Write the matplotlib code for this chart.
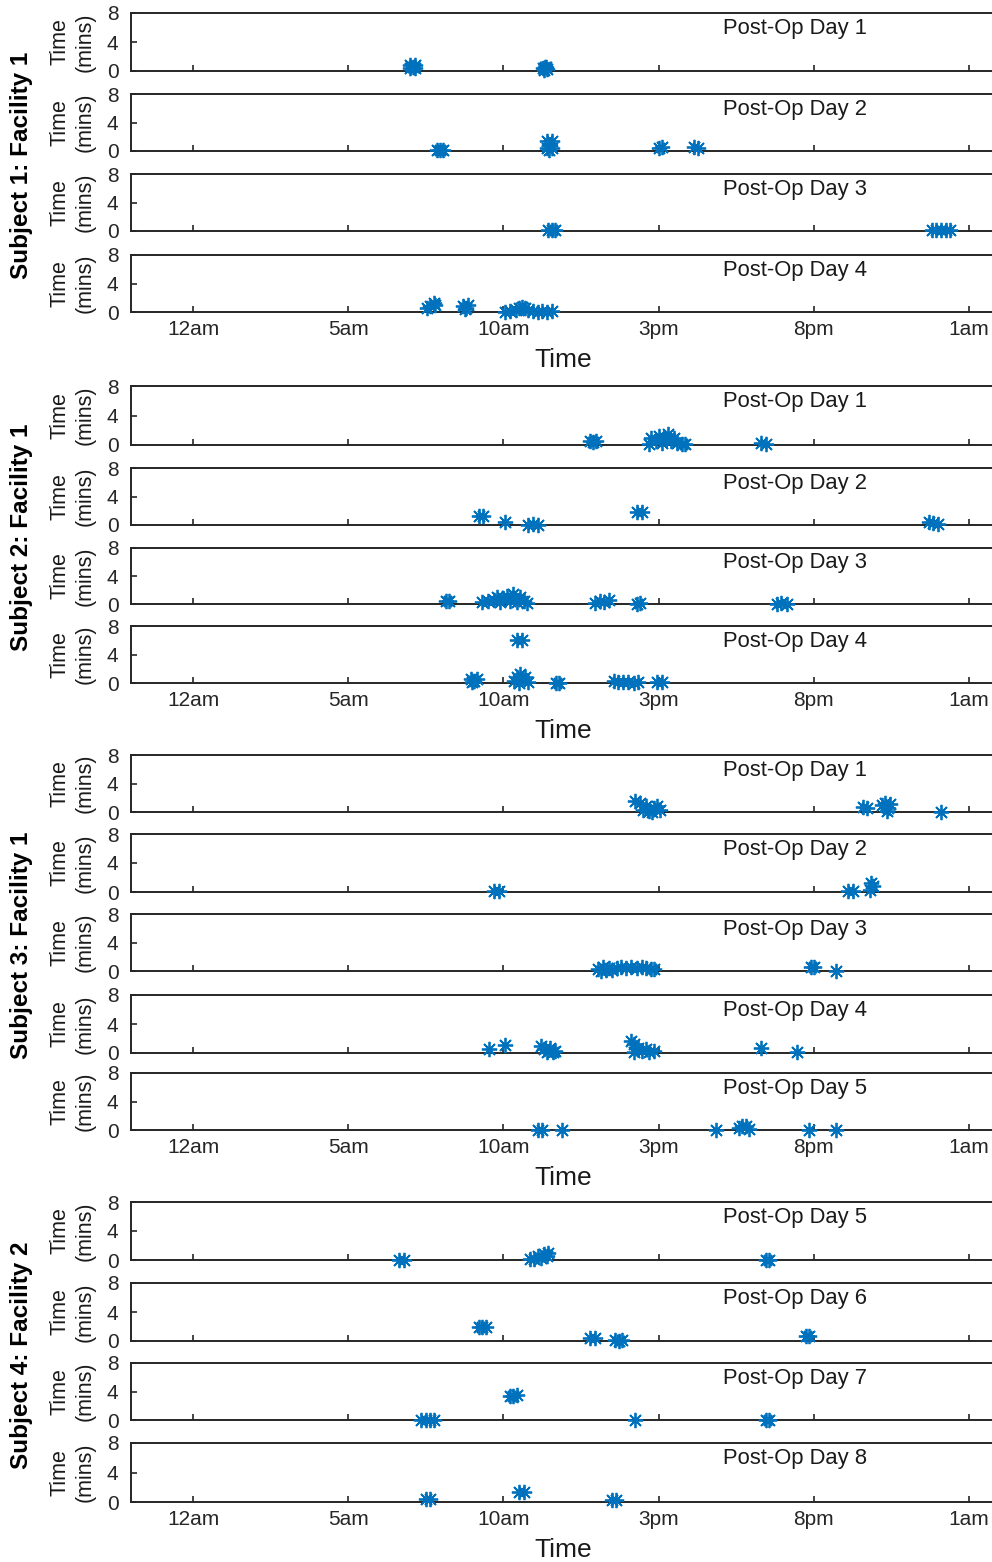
import matplotlib
matplotlib.use("Agg")
import matplotlib.pyplot as plt

plt.rcParams['font.family'] = ['Liberation Sans', 'DejaVu Sans']

# ---------------- data (hour of day: 0 = 12am, 24 = 12am next day; duration in mins) ----
tick_hours = [0, 5, 10, 15, 20, 25]
tick_labels = ['12am', '5am', '10am', '3pm', '8pm', '1am']
y_ticks = [0, 4, 8]

group_titles = ['Subject 1: Facility 1', 'Subject 2: Facility 1',
                'Subject 3: Facility 1', 'Subject 4: Facility 2']
s1_days = ['Post-Op Day 1', 'Post-Op Day 2', 'Post-Op Day 3', 'Post-Op Day 4']
s2_days = ['Post-Op Day 1', 'Post-Op Day 2', 'Post-Op Day 3', 'Post-Op Day 4']
s3_days = ['Post-Op Day 1', 'Post-Op Day 2', 'Post-Op Day 3', 'Post-Op Day 4', 'Post-Op Day 5']
s4_days = ['Post-Op Day 5', 'Post-Op Day 6', 'Post-Op Day 7', 'Post-Op Day 8']

# Subject 1
s1_d1_hours = [7.0, 7.15, 7.0, 7.15, 7.08, 11.28, 11.35, 11.42, 11.38, 11.3]
s1_d1_mins = [0.8, 0.8, 0.4, 0.4, 0.6, 0.4, 0.6, 0.3, 0.5, 0.2]
s1_d2_hours = [7.85, 7.97, 8.05, 11.4, 11.55, 11.4, 11.55, 11.47, 11.47, 15.0, 15.1, 16.15, 16.28]
s1_d2_mins = [0.1, 0.1, 0.1, 1.4, 1.4, 0.4, 0.4, 0.9, 0.2, 0.4, 0.5, 0.5, 0.4]
s1_d3_hours = [11.45, 11.55, 11.65, 23.8, 23.95, 24.1, 24.25, 24.4]
s1_d3_mins = [0.1, 0.1, 0.1, 0.2, 0.1, 0.2, 0.1, 0.2]
s1_d4_hours = [7.55, 7.65, 7.75, 7.8, 8.7, 8.8, 8.85, 8.75,
               10.05, 10.2, 10.4, 10.5, 10.6, 10.7, 10.8, 10.95, 11.1, 11.25, 11.4, 11.55]
s1_d4_mins = [0.6, 0.9, 1.2, 1.0, 0.9, 0.6, 1.0, 0.4,
              0.0, 0.1, 0.3, 0.6, 0.7, 0.5, 0.3, 0.1, 0.0, 0.1, 0.0, 0.1]

# Subject 2
s2_d1_hours = [12.8, 12.9, 12.97, 14.7, 14.75, 14.9, 15.0, 15.1, 15.2, 15.3, 15.4, 15.5,
               15.6, 15.75, 15.85, 18.3, 18.45]
s2_d1_mins = [0.5, 0.4, 0.5, 0.2, 1.0, 0.5, 1.2, 0.3, 1.0, 1.5, 0.6, 1.0,
              0.3, 0.2, 0.1, 0.3, 0.2]
s2_d2_hours = [9.2, 9.35, 10.05, 10.8, 10.95, 11.1, 14.3, 14.45, 23.7, 23.85, 24.0]
s2_d2_mins = [1.2, 1.2, 0.4, 0.0, 0.1, 0.0, 1.8, 1.8, 0.4, 0.3, 0.2]
s2_d3_hours = [8.15, 8.25, 9.3, 9.5, 9.7, 9.8, 9.9, 10.0, 10.1, 10.2, 10.3, 10.35, 10.45,
               10.55, 10.65, 10.75, 12.95, 13.1, 13.25, 13.4, 14.3, 14.4, 18.8, 18.95, 19.15]
s2_d3_mins = [0.4, 0.4, 0.3, 0.4, 0.6, 1.0, 0.3, 0.8, 1.2, 0.5, 1.5, 0.9, 0.3,
              1.0, 0.4, 0.1, 0.2, 0.5, 0.3, 0.6, 0.0, 0.1, 0.0, 0.1, 0.0]
s2_d4_hours = [10.45, 10.6, 8.95, 9.05, 9.15, 9.0, 10.35, 10.45, 10.55, 10.6, 10.7, 10.8,
               10.5, 11.7, 11.8, 13.55, 13.7, 13.85, 14.0, 14.2, 14.35, 14.95, 15.1]
s2_d4_mins = [6.0, 6.0, 0.6, 0.3, 0.5, 0.1, 0.3, 0.8, 1.2, 0.5, 0.9, 0.2,
              0.0, 0.0, 0.0, 0.3, 0.2, 0.1, 0.1, 0.0, 0.1, 0.1, 0.1]

# Subject 3
s3_d1_hours = [14.25, 14.4, 14.5, 14.6, 14.7, 14.85, 14.95, 15.05, 14.8,
               21.6, 21.7, 22.2, 22.3, 22.4, 22.45, 22.35, 24.1]
s3_d1_mins = [1.5, 1.2, 0.3, 0.8, 0.2, 0.6, 0.9, 0.3, 0.0,
              0.7, 0.6, 1.0, 1.3, 0.5, 1.1, 0.1, 0.0]
s3_d2_hours = [9.7, 9.85, 21.1, 21.25, 21.8, 21.9, 21.85]
s3_d2_mins = [0.1, 0.1, 0.1, 0.1, 0.3, 0.8, 1.2]
s3_d3_hours = [13.05, 13.15, 13.2, 13.3, 13.4, 13.5, 13.65, 13.8, 13.95, 14.1, 14.3,
               14.45, 14.6, 14.75, 14.85, 19.9, 20.0, 20.7]
s3_d3_mins = [0.3, 0.0, 0.5, 0.2, 0.4, 0.1, 0.4, 0.5, 0.4, 0.6, 0.4,
              0.5, 0.4, 0.3, 0.3, 0.6, 0.5, 0.0]
s3_d4_hours = [9.55, 10.05, 11.2, 11.3, 11.4, 11.5, 11.6, 11.65, 14.1, 14.2, 14.2, 14.35,
               14.45, 14.6, 14.7, 14.85, 18.3, 19.45]
s3_d4_mins = [0.5, 1.1, 0.9, 0.6, 0.2, 0.7, 0.1, 0.3, 1.7, 1.2, 0.2, 0.7,
              0.3, 0.5, 0.2, 0.3, 0.7, 0.1]
s3_d5_hours = [11.1, 11.25, 11.9, 16.85, 17.6, 17.7, 17.8, 17.9, 19.85, 20.7]
s3_d5_mins = [0.0, 0.0, 0.0, 0.0, 0.3, 0.6, 0.5, 0.2, 0.0, 0.0]

# Subject 4
s4_d5_hours = [6.65, 6.8, 10.85, 11.0, 11.1, 11.2, 11.3, 11.4, 11.45, 18.45, 18.55]
s4_d5_mins = [0.0, 0.0, 0.1, 0.2, 0.5, 0.3, 0.8, 0.6, 1.0, 0.0, 0.0]
s4_d6_hours = [9.2, 9.32, 9.45, 12.8, 12.95, 13.6, 13.72, 13.82, 19.75, 19.85]
s4_d6_mins = [2.0, 2.0, 1.9, 0.4, 0.4, 0.1, 0.0, 0.1, 0.7, 0.7]
s4_d7_hours = [7.35, 7.5, 7.65, 7.75, 10.2, 10.32, 10.45, 14.25, 18.45, 18.55]
s4_d7_mins = [0.0, 0.0, 0.0, 0.0, 3.4, 3.4, 3.5, 0.0, 0.0, 0.0]
s4_d8_hours = [7.5, 7.65, 10.5, 10.65, 13.5, 13.62]
s4_d8_mins = [0.4, 0.4, 1.4, 1.4, 0.3, 0.3]

groups = [
    (group_titles[0], s1_days, [(s1_d1_hours, s1_d1_mins), (s1_d2_hours, s1_d2_mins),
                                (s1_d3_hours, s1_d3_mins), (s1_d4_hours, s1_d4_mins)]),
    (group_titles[1], s2_days, [(s2_d1_hours, s2_d1_mins), (s2_d2_hours, s2_d2_mins),
                                (s2_d3_hours, s2_d3_mins), (s2_d4_hours, s2_d4_mins)]),
    (group_titles[2], s3_days, [(s3_d1_hours, s3_d1_mins), (s3_d2_hours, s3_d2_mins),
                                (s3_d3_hours, s3_d3_mins), (s3_d4_hours, s3_d4_mins),
                                (s3_d5_hours, s3_d5_mins)]),
    (group_titles[3], s4_days, [(s4_d5_hours, s4_d5_mins), (s4_d6_hours, s4_d6_mins),
                                (s4_d7_hours, s4_d7_mins), (s4_d8_hours, s4_d8_mins)]),
]

# ---------------- layout (pixel positions, top/bottom of each panel) ----------------
W, H = 992, 1562
panel_px = [
    [(13, 71), (94, 151), (174, 231), (255, 312)],
    [(386, 445), (468, 525), (548, 604), (626, 683)],
    [(755, 812), (834, 892), (914, 971), (995, 1053), (1073, 1130)],
    [(1202, 1260), (1283, 1341), (1363, 1420), (1443, 1502)],
]
ax_left_px, ax_right_px = 131, 1000
blue = '#0072BD'
spine_col = '#262626'

fig = plt.figure(figsize=(W / 100, H / 100), dpi=100)

for (title, days, series), boxes in zip(groups, panel_px):
    n = len(boxes)
    for i, ((top, bot), day, (hrs, mins)) in enumerate(zip(boxes, days, series)):
        ax = fig.add_axes([ax_left_px / W, 1 - bot / H,
                           (ax_right_px - ax_left_px) / W, (bot - top) / H])
        ax.plot(hrs, mins, linestyle='none', marker=(8, 2, 0), markersize=11,
                markeredgewidth=1.3, color=blue, clip_on=False, zorder=5)
        ax.set_xlim(-2, 26)
        ax.set_ylim(0, 8)
        ax.set_yticks(y_ticks)
        ax.set_xticks(tick_hours)
        if i == n - 1:
            ax.set_xticklabels(tick_labels)
        else:
            ax.set_xticklabels([])
        ax.tick_params(axis='both', direction='in', length=4, width=1.2,
                       colors=spine_col, labelsize=15, top=False, right=False)
        ax.tick_params(axis='x', pad=6)
        ax.tick_params(axis='y', pad=9)
        for s in ['top', 'bottom', 'left']:
            ax.spines[s].set_linewidth(1.4)
            ax.spines[s].set_color(spine_col)
        ax.spines['right'].set_visible(False)
        ax.text(0.681, 0.92, day, transform=ax.transAxes, ha='left', va='top',
                fontsize=15.8, color='#1a1a1a')
        # y label
        fig.text(72.5 / W, 1 - ((top + bot) / 2) / H, 'Time\n(mins)', rotation=90,
                 ha='center', va='center', fontsize=15.5, linespacing=1.3,
                 color='#1a1a1a')
        if i == n - 1:
            fig.text(563 / W, 1 - (bot + 48) / H, 'Time', ha='center', va='center',
                     fontsize=19, color='#1a1a1a')
    gtop, gbot = boxes[0][0], boxes[-1][1]
    fig.text(22 / W, 1 - ((gtop + gbot) / 2 + 3) / H, title, rotation=90,
             ha='center', va='center', fontsize=17.5, fontweight='bold')

fig.savefig('out.png', dpi=100)
